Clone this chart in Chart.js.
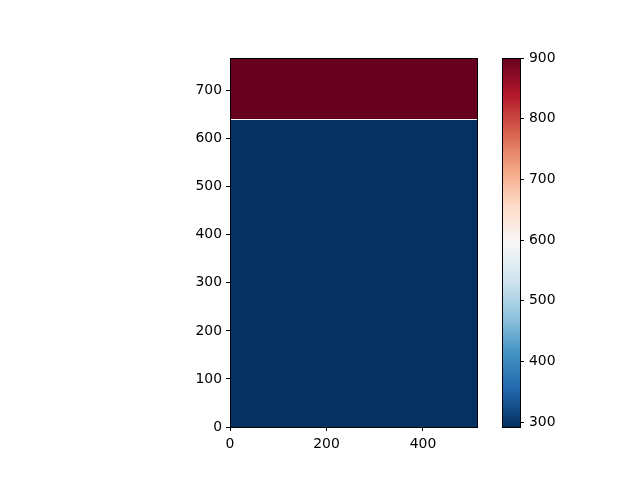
<!DOCTYPE html>
<html>
<head>
<meta charset="utf-8">
<script src="https://cdn.jsdelivr.net/npm/chart.js@4/dist/chart.umd.min.js"></script>
<style>
  html, body { margin: 0; padding: 0; background: #fff; }
  #wrap { position: relative; width: 640px; height: 480px; }
  #wrap canvas { position: absolute; left: 0; top: 0; }
</style>
</head>
<body>
<div id="wrap">
  <canvas id="main" width="640" height="480"></canvas>
  <canvas id="cbar" width="640" height="480"></canvas>
</div>
<script>
// --- data ---
const xExtent = [0, 512];
const layerTops = [640, 768];        // top depth of each layer (bottom layer first)
const layerValues = [292, 900];      // value in each layer
const interfaceDepths = [640];       // thin interpolated line between layers
const interfaceValues = [596];
const xTicks = [0, 200, 400];
const yTicks = [0, 100, 200, 300, 400, 500, 600, 700];
const cbarRange = [292, 900];
const cbarTicks = [300, 400, 500, 600, 700, 800, 900];

// RdBu_r colour stops (low -> high)
const rdbuR = ['#053061', '#2166ac', '#4393c3', '#92c5de', '#d1e5f0', '#f7f7f7',
               '#fddbc7', '#f4a582', '#d6604d', '#b2182b', '#67001f'];

function hexToRgb(h) {
  return [parseInt(h.substr(1, 2), 16), parseInt(h.substr(3, 2), 16), parseInt(h.substr(5, 2), 16)];
}

function colorFor(v) {
  let t = (v - cbarRange[0]) / (cbarRange[1] - cbarRange[0]);
  t = Math.max(0, Math.min(1, t)) * (rdbuR.length - 1);
  const i = Math.min(Math.floor(t), rdbuR.length - 2);
  const f = t - i;
  const a = hexToRgb(rdbuR[i]), b = hexToRgb(rdbuR[i + 1]);
  const c = a.map((x, k) => Math.round(x + (b[k] - x) * f));
  return `rgb(${c[0]}, ${c[1]}, ${c[2]})`;
}

const FONT = { family: 'DejaVu Sans', size: 13.9 };

// black frame round the plot area, like matplotlib spines
const framePlugin = {
  id: 'frame',
  afterDraw(chart) {
    const a = chart.chartArea, ctx = chart.ctx;
    ctx.save();
    ctx.strokeStyle = '#000';
    ctx.lineWidth = 1;
    ctx.strokeRect(Math.round(a.left) + 0.5, Math.round(a.top) + 0.5,
                   Math.round(a.right - a.left), Math.round(a.bottom - a.top));
    ctx.restore();
  }
};

// layers: line datasets filled down to the start of the y scale
const datasets = [];
interfaceDepths.forEach((d, i) => {
  datasets.push({
    data: [{ x: xExtent[0], y: d }, { x: xExtent[1], y: d }],
    borderColor: colorFor(interfaceValues[i]),
    borderWidth: 1,
    pointRadius: 0,
    fill: false
  });
});
layerTops.forEach((top, i) => {
  datasets.push({
    data: [{ x: xExtent[0], y: top }, { x: xExtent[1], y: top }],
    borderColor: colorFor(layerValues[i]),
    backgroundColor: colorFor(layerValues[i]),
    borderWidth: 0,
    pointRadius: 0,
    fill: 'start'
  });
});

new Chart(document.getElementById('main'), {
  type: 'line',
  data: { datasets: datasets },
  options: {
    responsive: false,
    animation: false,
    layout: { padding: { left: 0, top: 58, right: 163, bottom: 0 } },
    plugins: { legend: { display: false }, tooltip: { enabled: false } },
    scales: {
      x: {
        type: 'linear',
        min: xExtent[0],
        max: xExtent[1],
        afterBuildTicks: s => { s.ticks = xTicks.map(v => ({ value: v })); },
        afterFit: s => { s.height = 53; },
        grid: { display: true, drawOnChartArea: false, drawTicks: true, tickLength: 4, color: '#000' },
        border: { display: false },
        ticks: { color: '#000', font: FONT, padding: 5, maxRotation: 0 }
      },
      y: {
        type: 'linear',
        min: 0,
        max: layerTops[layerTops.length - 1],
        afterBuildTicks: s => { s.ticks = yTicks.map(v => ({ value: v })); },
        afterFit: s => { s.width = 230; },
        grid: { display: true, drawOnChartArea: false, drawTicks: true, tickLength: 4, color: '#000' },
        border: { display: false },
        ticks: { color: '#000', font: FONT, padding: 4 }
      }
    }
  },
  plugins: [framePlugin]
});

// colour bar
new Chart(document.getElementById('cbar'), {
  type: 'bar',
  data: {
    labels: [''],
    datasets: [{
      data: [cbarRange],
      borderWidth: 0,
      barPercentage: 1,
      categoryPercentage: 1,
      backgroundColor: ctx => {
        const area = ctx.chart.chartArea;
        if (!area) return rdbuR[0];
        const g = ctx.chart.ctx.createLinearGradient(0, area.bottom, 0, area.top);
        rdbuR.forEach((c, i) => g.addColorStop(i / (rdbuR.length - 1), c));
        return g;
      }
    }]
  },
  options: {
    responsive: false,
    animation: false,
    layout: { padding: { left: 502, top: 58, right: 0, bottom: 53 } },
    plugins: { legend: { display: false }, tooltip: { enabled: false } },
    scales: {
      x: { display: false },
      y: {
        position: 'right',
        min: cbarRange[0],
        max: cbarRange[1],
        afterBuildTicks: s => { s.ticks = cbarTicks.map(v => ({ value: v })); },
        afterFit: s => { s.width = 120; },
        grid: { display: true, drawOnChartArea: false, drawTicks: true, tickLength: 4, color: '#000' },
        border: { display: false },
        ticks: { color: '#000', font: FONT, padding: 5 }
      }
    }
  },
  plugins: [framePlugin]
});
</script>
</body>
</html>
